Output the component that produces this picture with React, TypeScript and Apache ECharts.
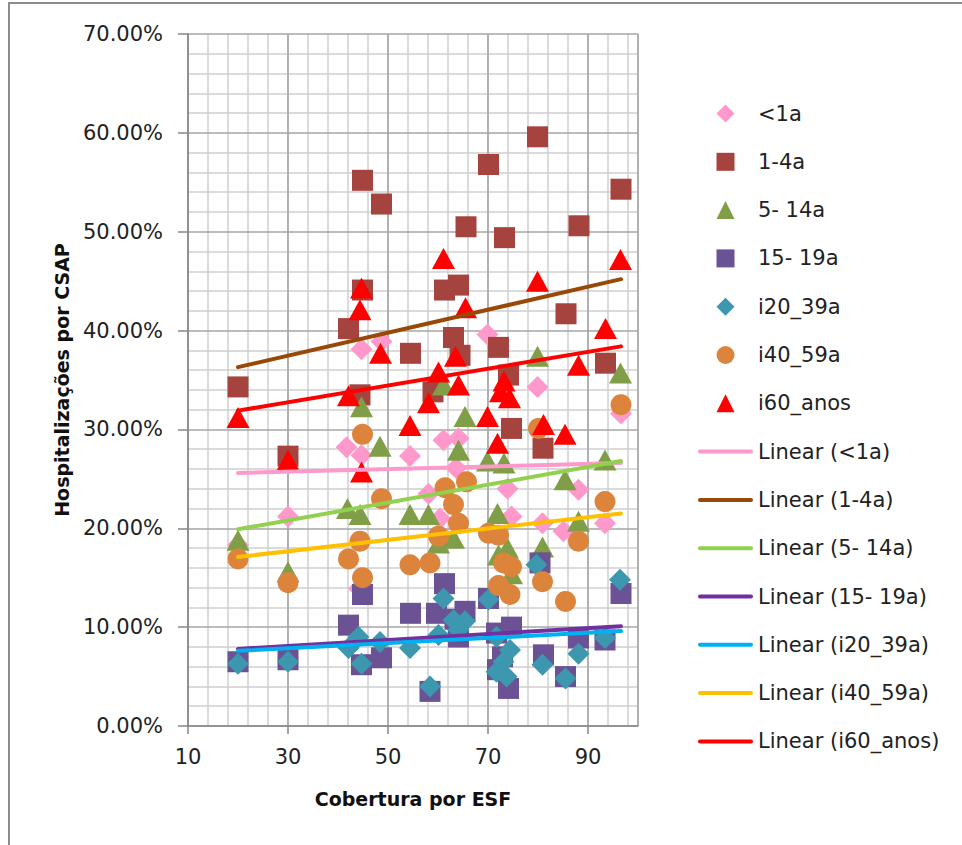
import React, { useEffect, useRef } from "react";
import * as echarts from "echarts";

// Cobertura por ESF (x) vs. Hospitalizações por CSAP (%), one [x, y] pair per município
const menor1a: [number, number][] = [
  [20, 18.3], [30, 21.2], [41.7, 28.2], [44.2, 13.9], [44.7, 38.1], [44.7, 27.4], [48.7, 38.9],
  [54.4, 27.3], [58.1, 23.5], [60.4, 21.0], [61.1, 28.9], [63.6, 26.1], [64.1, 29.1], [69.9, 39.6],
  [73.9, 24.0], [74.7, 21.2], [79.9, 34.3], [80.9, 20.5], [85.1, 19.7], [88.1, 23.9], [93.4, 20.5],
  [96.6, 31.6],
];
const de1a4a: [number, number][] = [
  [20, 34.3], [30, 27.3], [42.1, 40.2], [44.4, 33.5], [44.9, 55.2], [44.9, 44.1], [48.7, 52.8],
  [54.5, 37.7], [59, 33.8], [61.3, 44.1], [63.1, 39.3], [64.1, 44.6], [64.4, 37.5], [65.6, 50.5],
  [70.1, 56.8], [72.1, 38.3], [73.3, 49.4], [74.1, 35.5], [74.7, 30.1], [79.9, 59.6], [81, 28.1],
  [85.6, 41.7], [88.2, 50.6], [93.5, 36.7], [96.6, 54.3],
];
const de5a14a: [number, number][] = [
  [20, 18.8], [30, 15.6], [41.9, 22.0], [44.4, 21.4], [44.7, 32.3], [48.4, 28.3], [54.4, 21.4],
  [58.1, 21.4], [60.1, 18.5], [61.1, 34.5], [63.1, 19.0], [64.1, 27.9], [65.4, 31.3], [69.9, 26.8],
  [71.9, 21.5], [72.1, 17.3], [73.2, 26.6], [73.9, 18.0], [74.7, 15.4], [79.9, 37.4], [80.9, 18.1],
  [85.4, 24.9], [88.1, 20.7], [93.4, 26.9], [96.5, 35.7],
];
const de15a19a: [number, number][] = [
  [20, 6.5], [30, 6.7], [42.1, 10.2], [44.7, 6.2], [44.9, 13.3], [48.7, 6.9], [54.5, 11.4],
  [58.4, 3.5], [59.7, 11.4], [61.3, 14.4], [63.4, 10.8], [64.1, 9.0], [65.4, 11.6], [70.1, 12.9],
  [71.7, 9.4], [71.9, 5.7], [72.9, 7.0], [74.1, 3.8], [74.7, 10.0], [80.4, 16.5], [81.1, 7.2],
  [85.5, 5.0], [88.1, 8.9], [93.4, 8.7], [96.6, 13.4],
];
const de20a39a: [number, number][] = [
  [20, 6.3], [30, 6.5], [42.1, 7.9], [44.1, 9.0], [44.7, 6.3], [48.4, 8.5], [54.4, 7.9],
  [58.4, 4.0], [60.1, 9.2], [61.1, 12.9], [63.1, 10.7], [64.1, 9.7], [65.4, 10.6], [70.1, 12.8],
  [71.7, 5.5], [71.7, 9.0], [73.1, 6.5], [73.7, 5.0], [74.4, 7.7], [79.7, 16.3], [80.9, 6.2],
  [85.5, 4.8], [88.1, 7.3], [93.4, 8.9], [96.4, 14.8],
];
const de40a59a: [number, number][] = [
  [20, 16.9], [30, 14.5], [42.1, 16.9], [44.4, 18.7], [44.9, 29.5], [44.9, 15.0], [48.7, 23.0],
  [54.4, 16.3], [58.4, 16.5], [60.1, 19.2], [61.4, 24.1], [63.1, 22.4], [64.1, 20.5], [65.7, 24.7],
  [70.1, 19.5], [72.1, 19.3], [72.1, 14.2], [73.1, 16.5], [74.4, 13.3], [74.7, 16.1], [80.1, 30.1],
  [80.9, 14.6], [85.5, 12.6], [88.1, 18.7], [93.4, 22.7], [96.6, 32.5],
];
const de60anos: [number, number][] = [
  [20, 31.2], [30, 26.9], [42.1, 33.4], [44.4, 42.1], [44.7, 44.3], [44.7, 25.7], [48.5, 37.7],
  [54.4, 30.4], [58.1, 32.7], [60.1, 35.8], [61.1, 47.3], [63.5, 37.4], [64.1, 34.5], [65.5, 42.3],
  [69.9, 31.3], [71.9, 28.6], [72.5, 33.8], [73.2, 34.9], [74.3, 33.2], [79.9, 45.0], [81.1, 30.5],
  [85.4, 29.5], [88.1, 36.5], [93.5, 40.2], [96.5, 47.2],
];

// Linear trend lines: value at the first and last coverage value
const trendX = [20, 96.6];
const trendMenor1a = [25.6, 26.6];
const trend1a4a = [36.3, 45.2];
const trend5a14a = [19.9, 26.8];
const trend15a19a = [7.8, 10.1];
const trend20a39a = [7.6, 9.6];
const trend40a59a = [17.1, 21.5];
const trend60anos = [31.9, 38.4];

const seriesNames = ["<1a", "1-4a", "5- 14a", "15- 19a", "i20_39a", "i40_59a", "i60_anos"];
const xTicks = [10, 30, 50, 70, 90];

const FONT = "'DejaVu Sans', sans-serif";

// legend glyphs drawn as paths so they keep a square aspect inside the 55 x 18 slot
const ICONS: Record<string, string> = {
  diamond: "path://M5,0 L10,5 L5,10 L0,5 Z",
  rect: "path://M0,0 L10,0 L10,10 L0,10 Z",
  triangle: "path://M5,0 L10,10 L0,10 Z",
  circle: "path://M5,0 A5,5 0 1 1 5,10 A5,5 0 1 1 5,0 Z",
};
const LINE_ICON = "path://M2,0 L53,0 A2,2 0 0 1 53,4 L2,4 A2,2 0 0 1 2,0 Z";

export default function App() {
  const ref = useRef<HTMLDivElement>(null);

  useEffect(() => {
    document.body.style.margin = "0";
    if (!ref.current) return;
    const chart = echarts.init(ref.current, undefined, { renderer: "svg" });

    const scatterDefs = [
      { data: menor1a, symbol: "diamond", size: 22, color: "#FF99CC" },
      { data: de1a4a, symbol: "rect", size: 21, color: "#A5443F" },
      { data: de5a14a, symbol: "triangle", size: [23, 21], color: "#7F9E47" },
      { data: de15a19a, symbol: "rect", size: 21, color: "#6B5294" },
      { data: de20a39a, symbol: "diamond", size: 22, color: "#3C97AF" },
      { data: de40a59a, symbol: "circle", size: 21, color: "#DC843B" },
      { data: de60anos, symbol: "triangle", size: [23, 21], color: "#FF0000" },
    ];
    const trendDefs = [
      { ends: trendMenor1a, color: "#FF99CC" },
      { ends: trend1a4a, color: "#984807" },
      { ends: trend5a14a, color: "#92D050" },
      { ends: trend15a19a, color: "#7030A0" },
      { ends: trend20a39a, color: "#00B0F0" },
      { ends: trend40a59a, color: "#FFC000" },
      { ends: trend60anos, color: "#FF0000" },
    ];

    const scatters = scatterDefs.map((d, i) => ({
      type: "scatter",
      name: seriesNames[i],
      data: d.data,
      symbol: d.symbol,
      symbolSize: d.size,
      itemStyle: { color: d.color, opacity: 1 },
      z: 2,
    }));
    const lines = trendDefs.map((d, i) => ({
      type: "line",
      name: `Linear (${seriesNames[i]})`,
      data: trendX.map((x, k) => [x, d.ends[k]]),
      symbol: "none",
      lineStyle: { color: d.color, width: 4, cap: "round" },
      itemStyle: { color: d.color },
      z: 3,
    }));

    const legendData = [
      ...scatterDefs.map((d, i) => ({ name: seriesNames[i], icon: ICONS[d.symbol] })),
      ...seriesNames.map((n) => ({ name: `Linear (${n})`, icon: LINE_ICON })),
    ];

    chart.setOption({
      animation: false,
      backgroundColor: "#ffffff",
      grid: { left: 188, top: 34, width: 450, height: 692, containLabel: false },
      legend: {
        orient: "vertical",
        left: 693,
        top: 98,
        padding: 5,
        itemWidth: 55,
        itemHeight: 18,
        itemGap: 27.3,
        itemStyle: { borderWidth: 0 },
        textStyle: { fontFamily: FONT, fontSize: 21, color: "#222", lineHeight: 21 },
        data: legendData,
      },
      xAxis: [
        {
          type: "value",
          min: 10,
          max: 100,
          interval: 20,
          z: 2,
          name: "Cobertura por ESF",
          nameLocation: "middle",
          nameGap: 63,
          nameTextStyle: { fontFamily: FONT, fontSize: 19, fontWeight: "bold", color: "#111" },
          axisLine: { show: true, onZero: false, lineStyle: { color: "#868686", width: 1.5 } },
          axisTick: { show: true, length: 8, inside: false, lineStyle: { color: "#868686", width: 1.5 } },
          axisLabel: {
            fontFamily: FONT,
            fontSize: 21,
            color: "#222",
            margin: 20,
            showMaxLabel: false,
            formatter: (v: number) => (xTicks.includes(v) ? String(v) : ""),
          },
          splitLine: { show: true, lineStyle: { color: "#A6A6A6", width: 1.6 } },
        },
        {
          // minor grid, every 4 units from 10
          type: "value",
          min: 0,
          max: 90,
          interval: 4,
          z: 1,
          position: "bottom",
          axisLine: { show: false },
          axisTick: { show: false },
          axisLabel: { show: false },
          splitLine: { show: true, lineStyle: { color: "#CFCFCF", width: 1.5 } },
        },
      ],
      yAxis: {
        type: "value",
        min: 0,
        max: 70,
        interval: 10,
        z: 2,
        name: "Hospitalizações por CSAP",
        nameLocation: "middle",
        nameGap: 117,
        nameTextStyle: { fontFamily: FONT, fontSize: 19, fontWeight: "bold", color: "#111" },
        axisLine: { show: true, lineStyle: { color: "#868686", width: 1.5 } },
        axisTick: { show: true, length: 10, inside: false, lineStyle: { color: "#868686", width: 1.5 } },
        axisLabel: {
          fontFamily: FONT,
          fontSize: 21,
          color: "#222",
          margin: 25,
          formatter: (v: number) => `${v.toFixed(2)}%`,
        },
        splitLine: { show: true, lineStyle: { color: "#A6A6A6", width: 1.6 } },
        minorTick: { show: false, splitNumber: 5 },
        minorSplitLine: { show: true, lineStyle: { color: "#CFCFCF", width: 1.5 } },
      },
      graphic: [
        {
          type: "rect",
          shape: { x: 9, y: 3, width: 1000, height: 1000 },
          style: { fill: "none", stroke: "#8C8C8C", lineWidth: 2 },
          silent: true,
        },
      ],
      series: [...scatters, ...lines],
    });

    return () => chart.dispose();
  }, []);

  return <div ref={ref} style={{ width: 962, height: 845 }} />;
}
